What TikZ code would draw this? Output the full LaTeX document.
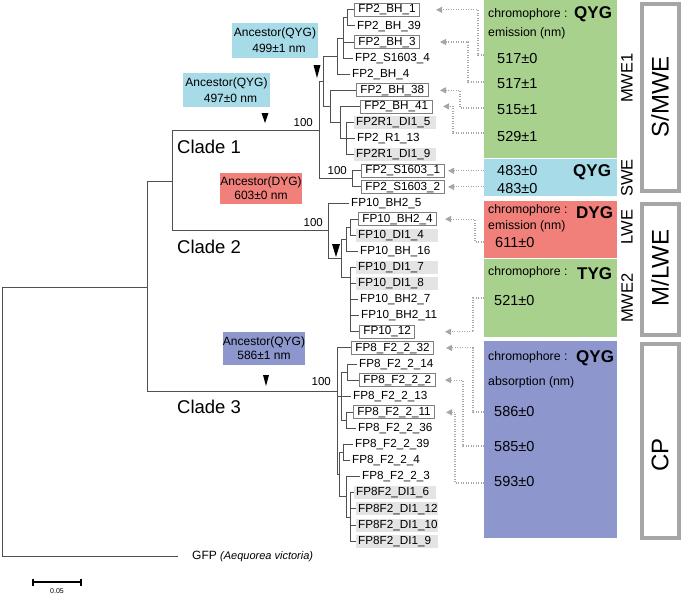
\documentclass[tikz,border=0pt]{standalone}
\usepackage{fontspec}
\setmainfont{Liberation Sans}
\usetikzlibrary{arrows.meta}
\definecolor{treec}{HTML}{505050}
\definecolor{boxc}{HTML}{7F7F7F}
\definecolor{grayfill}{HTML}{E4E4E4}
\definecolor{dotc}{HTML}{A6A6A6}
\definecolor{outc}{HTML}{A6A6A6}
\definecolor{grn}{HTML}{A9D18E}
\definecolor{lbl}{HTML}{A6DBE7}
\definecolor{rdd}{HTML}{F1807A}
\definecolor{pur}{HTML}{8D97CD}
\begin{document}
\begin{tikzpicture}[x=1pt,y=-1pt,
  br/.style={draw=treec,line width=0.9pt},
  leaf/.style={anchor=west,inner xsep=2pt,inner ysep=1.2pt,text height=8.4pt,text depth=2.2pt,font=\fontsize{11.7}{13}\selectfont},
  bx/.style={leaf,draw=boxc,line width=0.8pt,fill=white,inner xsep=4pt},
  gy/.style={leaf,fill=grayfill,text width=78pt,align=left},
  bs/.style={anchor=base east,inner sep=0pt,font=\fontsize{11.5}{13}\selectfont},
  clade/.style={anchor=base west,inner sep=0pt,font=\fontsize{18.5}{20}\selectfont},
  anc/.style={inner sep=0pt,align=center,font=\fontsize{12}{16}\selectfont},
  ch/.style={anchor=west,inner sep=0pt,font=\fontsize{12.3}{14}\selectfont},
  cg/.style={anchor=west,inner sep=0pt,font=\fontsize{17}{19}\selectfont\bfseries},
  val/.style={anchor=west,inner sep=0pt,font=\fontsize{14.5}{16}\selectfont},
  rl/.style={rotate=90,inner sep=0pt,font=\fontsize{16.5}{18}\selectfont},
  big/.style={rotate=90,inner sep=0pt,font=\fontsize{24}{26}\selectfont},
  ptr/.style={draw=dotc,line width=1.1pt,dash pattern=on 1pt off 1.5pt,-{Triangle[length=6pt,width=6pt]}},
  tri/.style={fill=black}
]
\useasboundingbox (0,0) rectangle (683,595);

% ---------- right panels ----------
\fill[grn] (484,0) rectangle (617,158);
\fill[lbl] (484,159) rectangle (617,196);
\fill[rdd] (484,201) rectangle (617,258);
\fill[grn] (484,259) rectangle (617,337);
\fill[pur] (484,341) rectangle (617,538);

\draw[outc,line width=4pt] (642,4) rectangle (679,191);
\draw[outc,line width=4pt] (642,204) rectangle (679,335);
\draw[outc,line width=4pt] (642,344) rectangle (679,538);

\node[big] (tsmwe) at (660,97) {S/MWE};
\node[big] (tmlwe) at (660,268) {M/LWE};
\node[big] (tcp) at (660,455) {CP};

\node[rl] (tmwe1) at (627,78) {MWE1};
\node[rl] (tswe) at (627,178) {SWE};
\node[rl] (tlwe) at (627,227) {LWE};
\node[rl] (tmwe2) at (627,298) {MWE2};

\node[ch] (ch1) at (488,14) {chromophore :};
\node[cg] (cg1) at (574,14) {QYG};
\node[ch] (em1) at (488,33) {emission (nm)};
\node[val] (v1) at (497,59) {517±0};
\node[val] (v2) at (497,84) {517±1};
\node[val] (v3) at (497,110) {515±1};
\node[val] (v4) at (497,137) {529±1};

\node[val] (v5) at (497,171) {483±0};
\node[val] (v6) at (497,189) {483±0};
\node[cg] (cg2) at (573,172.5) {QYG};

\node[ch] (ch3) at (488,210) {chromophore :};
\node[cg] (cg3) at (576,213) {DYG};
\node[ch] (em3) at (488,226) {emission (nm)};
\node[val] (v7) at (495,243) {611±0};

\node[ch] (ch4) at (488,272) {chromophore :};
\node[cg] (cg4) at (577,274) {TYG};
\node[val] (v8) at (494,301) {521±0};

\node[ch] (ch5) at (488,357) {chromophore :};
\node[cg] (cg5) at (576,358) {QYG};
\node[ch] (ab5) at (488,382) {absorption (nm)};
\node[val] (v9) at (494,412) {586±0};
\node[val] (v10) at (494,447) {585±0};
\node[val] (v11) at (494,482) {593±0};

% ---------- leaves ----------
\node[bx] (l1) at (354,9.8) {FP2\_BH\_1};
\node[leaf] (l2) at (355,25.9) {FP2\_BH\_39};
\node[bx] (l3) at (354,42.0) {FP2\_BH\_3};
\node[leaf] (l4) at (353,58.1) {FP2\_S1603\_4};
\node[leaf] (l5) at (350,74.2) {FP2\_BH\_4};
\node[bx] (l6) at (356,90.3) {FP2\_BH\_38};
\node[bx] (l7) at (360,106.4) {FP2\_BH\_41};
\node[gy] (l8) at (354,122.5) {FP2R1\_DI1\_5};
\node[leaf] (l9) at (355,138.6) {FP2\_R1\_13};
\node[gy] (l10) at (354,154.7) {FP2R1\_DI1\_9};
\node[bx] (l11) at (361,170.8) {FP2\_S1603\_1};
\node[bx] (l12) at (361,186.9) {FP2\_S1603\_2};
\node[leaf] (l13) at (349,203.0) {FP10\_BH2\_5};
\node[bx] (l14) at (358,219.1) {FP10\_BH2\_4};
\node[gy] (l15) at (356,235.2) {FP10\_DI1\_4};
\node[leaf] (l16) at (358,251.3) {FP10\_BH\_16};
\node[gy] (l17) at (356,267.4) {FP10\_DI1\_7};
\node[gy] (l18) at (356,283.5) {FP10\_DI1\_8};
\node[leaf] (l19) at (358,299.6) {FP10\_BH2\_7};
\node[leaf] (l20) at (359,315.7) {FP10\_BH2\_11};
\node[bx] (l21) at (359,331.8) {FP10\_12};
\node[bx] (l22) at (351,347.9) {FP8\_F2\_2\_32};
\node[leaf] (l23) at (357,364.0) {FP8\_F2\_2\_14};
\node[bx] (l24) at (359,380.1) {FP8\_F2\_2\_2};
\node[leaf] (l25) at (351,396.2) {FP8\_F2\_2\_13};
\node[bx] (l26) at (353,412.3) {FP8\_F2\_2\_11};
\node[leaf] (l27) at (356,428.4) {FP8\_F2\_2\_36};
\node[leaf] (l28) at (353,444.5) {FP8\_F2\_2\_39};
\node[leaf] (l29) at (350,460.6) {FP8\_F2\_2\_4};
\node[leaf] (l30) at (360,476.7) {FP8\_F2\_2\_3};
\node[gy] (l31) at (354,492.8) {FP8F2\_DI1\_6};
\node[gy] (l32) at (356,508.9) {FP8F2\_DI1\_12};
\node[gy] (l33) at (356,525.0) {FP8F2\_DI1\_10};
\node[gy] (l34) at (356,541.1) {FP8F2\_DI1\_9};
\node[leaf,font=\fontsize{12}{14}\selectfont] (gfp) at (190,556.5) {GFP {\fontsize{11}{13}\selectfont\itshape (Aequorea victoria)}};

% ---------- internal nodes ----------
\coordinate (root) at (2,420);
\coordinate (in) at (147,287);
\coordinate (n12) at (172,181);
\coordinate (c1) at (319,130);
\coordinate (mwe1) at (323,81);
\coordinate (na) at (337,56);
\coordinate (a1) at (343,38);
\coordinate (a11) at (347,17.85);
\coordinate (nb) at (330,106.4);
\coordinate (b1) at (340,122.5);
\coordinate (b2) at (346,138.6);
\coordinate (swe) at (352,178.85);
\coordinate (c2) at (328,230.5);
\coordinate (d) at (341,258);
\coordinate (d1) at (346,239.2);
\coordinate (d11) at (350,227.15);
\coordinate (d2) at (350,277);
\coordinate (c3) at (337,391);
\coordinate (e1) at (341,396.2);
\coordinate (f1) at (347,372);
\coordinate (f2) at (346,420.4);
\coordinate (e2) at (339,474.7);
\coordinate (g1) at (343,452.5);
\coordinate (g2) at (346,496.8);
\coordinate (h) at (350,517);

% ---------- branches ----------
\draw[br] (root) |- (in);
\draw[br] (root) |- ([xshift=-12pt]gfp.west);
\draw[br] (in) |- (n12);
\draw[br] (in) |- (c3);
\draw[br] (n12) |- (c1);
\draw[br] (n12) |- (c2);
\draw[br] (c1) |- (mwe1);
\draw[br] (c1) |- (swe);
\draw[br] (mwe1) |- (na);
\draw[br] (mwe1) |- (nb);
\draw[br] (na) |- (a1);
\draw[br] (na) |- (l5.west);
\draw[br] (a1) |- (a11);
\draw[br] (a1) |- (l3.west);
\draw[br] (a1) |- (l4.west);
\draw[br] (a11) |- (l1.west);
\draw[br] (a11) |- (l2.west);
\draw[br] (nb) |- (l6.west);
\draw[br] (nb) |- (b1);
\draw[br] (b1) |- (l7.west);
\draw[br] (b1) |- (b2);
\draw[br] (b2) |- (l8.west);
\draw[br] (b2) |- (l9.west);
\draw[br] (b2) |- (l10.west);
\draw[br] (swe) |- (l11.west);
\draw[br] (swe) |- (l12.west);
\draw[br] (c2) |- (l13.west);
\draw[br] (c2) |- (d);
\draw[br] (d) |- (d1);
\draw[br] (d) |- (d2);
\draw[br] (d1) |- (d11);
\draw[br] (d1) |- (l16.west);
\draw[br] (d11) |- (l14.west);
\draw[br] (d11) |- (l15.west);
\draw[br] (d2) |- (l17.west);
\draw[br] (d2) |- (l18.west);
\draw[br] (d2) |- (l19.west);
\draw[br] (d2) |- (l20.west);
\draw[br] (d2) |- (l21.west);
\draw[br] (c3) |- (l22.west);
\draw[br] (c3) |- (e1);
\draw[br] (c3) |- (e2);
\draw[br] (e1) |- (f1);
\draw[br] (e1) |- (l25.west);
\draw[br] (e1) |- (f2);
\draw[br] (f1) |- (l23.west);
\draw[br] (f1) |- (l24.west);
\draw[br] (f2) |- (l26.west);
\draw[br] (f2) |- (l27.west);
\draw[br] (e2) |- (g1);
\draw[br] (e2) |- (g2);
\draw[br] (g1) |- (l28.west);
\draw[br] (g1) |- (l29.west);
\draw[br] (g2) |- (l30.west);
\draw[br] (g2) |- (h);
\draw[br] (h) |- (l31.west);
\draw[br] (h) |- (l32.west);
\draw[br] (h) |- (l33.west);
\draw[br] (h) |- (l34.west);

% ---------- labels on tree ----------
\node[bs] (bs1) at (313,126) {100};
\node[bs] (bs2) at (347,174) {100};
\node[bs] (bs3) at (323,226) {100};
\node[bs] (bs4) at (331,385) {100};

\node[clade] (cl1) at (177,153) {Clade 1};
\node[clade] (cl2) at (177,253) {Clade 2};
\node[clade] (cl3) at (177,413) {Clade 3};

\node[anc,fill=lbl,minimum width=86pt,minimum height=35pt] (an499) at (275,40) {Ancestor(QYG)\\\hspace*{8pt}499±1 nm};
\node[anc,fill=lbl,minimum width=87pt,minimum height=34pt] (an497) at (226.5,90) {Ancestor(QYG)\\\hspace*{8pt}497±0 nm};
\node[anc,fill=rdd,minimum width=82pt,minimum height=31pt,font=\fontsize{12}{14}\selectfont] (an603) at (261,188.5) {Ancestor(DYG)\\603±0 nm};
\node[anc,fill=pur,minimum width=80pt,minimum height=33pt,font=\fontsize{12}{14}\selectfont] (an586) at (264,348.5) {Ancestor(QYG)\\586±1 nm};

\fill[tri] (313.5,65) -- (320.5,65) -- (317,78) -- cycle;
\fill[tri] (261.5,113) -- (268.5,113) -- (265,123) -- cycle;
\fill[tri] (332,244) -- (340,244) -- (336,257) -- cycle;
\fill[tri] (263,375) -- (269,375) -- (266,386) -- cycle;

% ---------- dotted pointers ----------
\draw[ptr] (484,55) -| (478,9.8) -- (l1 -| 436,0);
\draw[ptr] (484,82) -| (468,42) -- (l3 -| 440,0);
\draw[ptr] (484,108) -| (460,90.3) -- (l6 -| 440,0);
\draw[ptr] (484,133) -| (453,106.4) -- (l7 -| 443,0);
\draw[ptr] (484,170.8) -- (l11 -| 448,0);
\draw[ptr] (484,186.9) -- (l12 -| 448,0);
\draw[ptr] (484,242) -| (475,219.1) -- (l14 -| 445,0);
\draw[ptr] (484,298) -| (473,331.8) -- (l21 -| 445,0);
\draw[ptr] (484,412) -| (473,347.9) -- (l22 -| 446,0);
\draw[ptr] (484,446) -| (463,380.1) -- (l24 -| 445,0);
\draw[ptr] (484,483) -| (455,412.3) -- (l26 -| 446,0);

% ---------- scale bar ----------
\coordinate (sbl) at (33,582);
\coordinate (sbr) at (81,582);
\draw[line width=1.8pt] (sbl) -- (sbr);
\draw[line width=1.5pt] ([yshift=-3.5pt]sbl) -- ([yshift=3.5pt]sbl);
\draw[line width=1.5pt] ([yshift=-3.5pt]sbr) -- ([yshift=3.5pt]sbr);
\node[inner sep=0pt,font=\fontsize{7}{8}\selectfont] (sbt) at (57,591) {0.05};
\end{tikzpicture}
\end{document}
